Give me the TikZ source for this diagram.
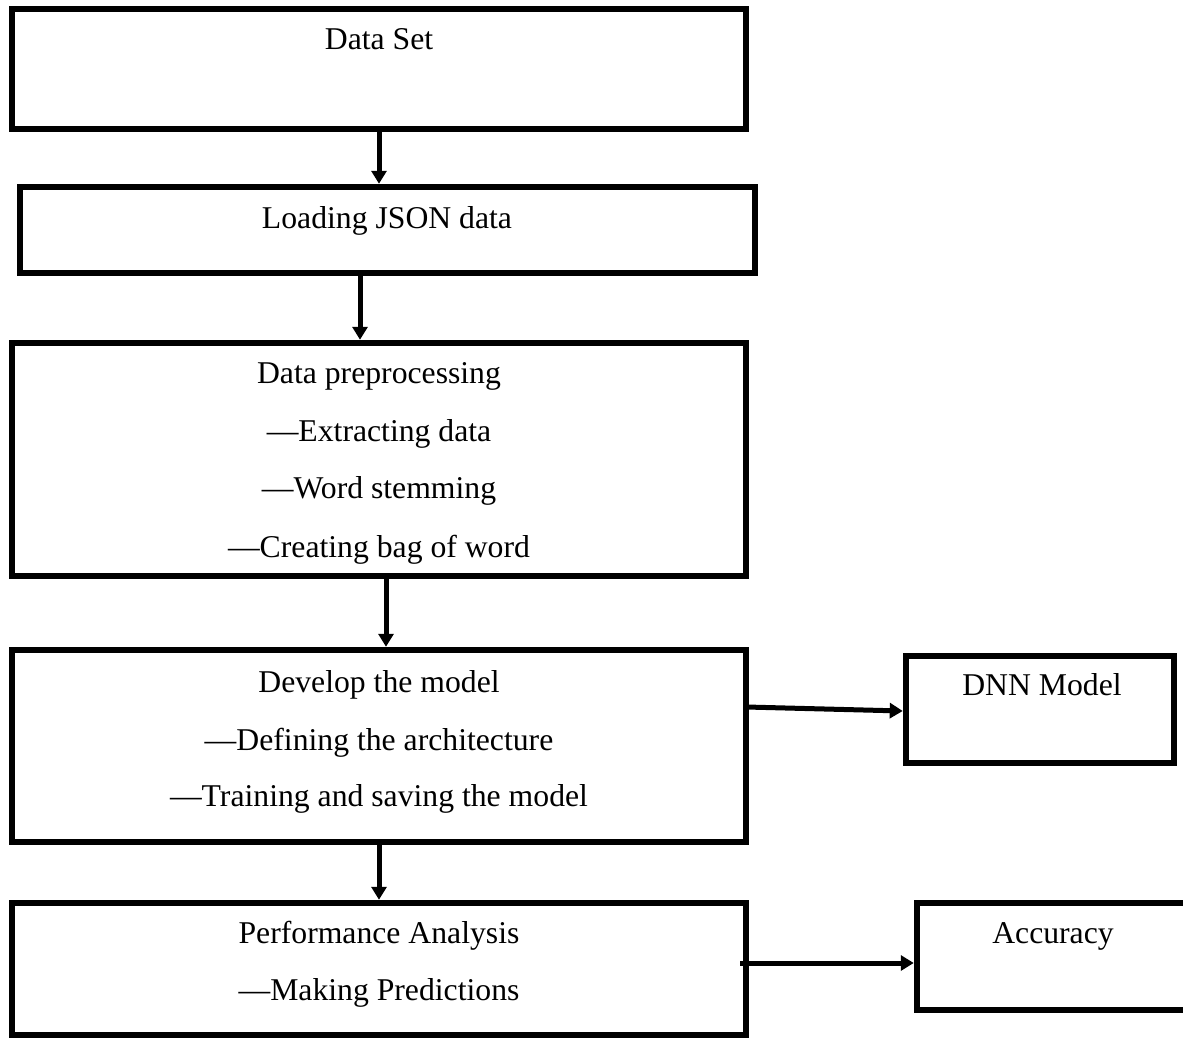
\documentclass[tikz,border=0pt]{standalone}
\usepackage{fontspec}
\setmainfont{Liberation Serif}
\usetikzlibrary{arrows.meta}
\begin{document}
\begin{tikzpicture}[x=1pt,y=-1pt,
  box/.style={draw, line width=6.5pt, inner sep=0pt},
  txt/.style={anchor=base, inner sep=0pt, font=\fontsize{31.7}{38}\selectfont},
  arr/.style={line width=5pt, -{Triangle[length=13pt,width=15pt]}}]
  \clip (0,0) rectangle (1183,1038);
  \fill[white] (0,0) rectangle (1183,1038);

  % main process boxes
  \node[box, minimum width=734pt, minimum height=120pt] (b1) at (379,69) {};
  \node[box, minimum width=735pt, minimum height=86pt]  (b2) at (387.5,230) {};
  \node[box, minimum width=734pt, minimum height=233pt] (b3) at (379,459.5) {};
  \node[box, minimum width=734pt, minimum height=192pt] (b4) at (379,746) {};
  \node[box, minimum width=734pt, minimum height=132pt] (b5) at (379,969) {};
  % side output boxes
  \node[box, minimum width=268pt, minimum height=107pt] (dnn) at (1040,709.5) {};
  \node[box, minimum width=272pt, minimum height=107pt] (acc) at (1053,956.5) {};

  % labels
  \node[txt] (t1) at (379,50) {Data Set};
  \node[txt] (t2) at (387,228) {Loading JSON data};
  \node[txt] (t3a) at (379,383) {Data preprocessing};
  \node[txt] (t3b) at (379,441) {—Extracting data};
  \node[txt] (t3c) at (379,498) {—Word stemming};
  \node[txt] (t3d) at (379,557) {—Creating bag of word};
  \node[txt] (t4a) at (379,692) {Develop the model};
  \node[txt] (t4b) at (379,750) {—Defining the architecture};
  \node[txt] (t4c) at (379,806) {—Training and saving the model};
  \node[txt] (t5a) at (379,943) {Performance Analysis};
  \node[txt] (t5b) at (379,1000) {—Making Predictions};
  \node[txt] (tdnn) at (1042,695) {DNN Model};
  \node[txt] (tacc) at (1053,943) {Accuracy};

  % connectors
  \draw[arr] (b1.south) -- (b2.north -| b1.south);
  \draw[arr] ([xshift=-27.5pt]b2.south) -- ([xshift=-19pt]b3.north);
  \draw[arr] ([xshift=7pt]b3.south) -- ([xshift=7pt]b4.north);
  \draw[arr] (b4.south) -- (b5.north);
  \draw[arr] ([xshift=-3pt,yshift=39pt]b4.east) -- ([yshift=-1.5pt]dnn.west);
  \draw[arr] ([xshift=-9pt,yshift=6pt]b5.east) -- ([yshift=-6.5pt]acc.west);
\end{tikzpicture}
\end{document}
